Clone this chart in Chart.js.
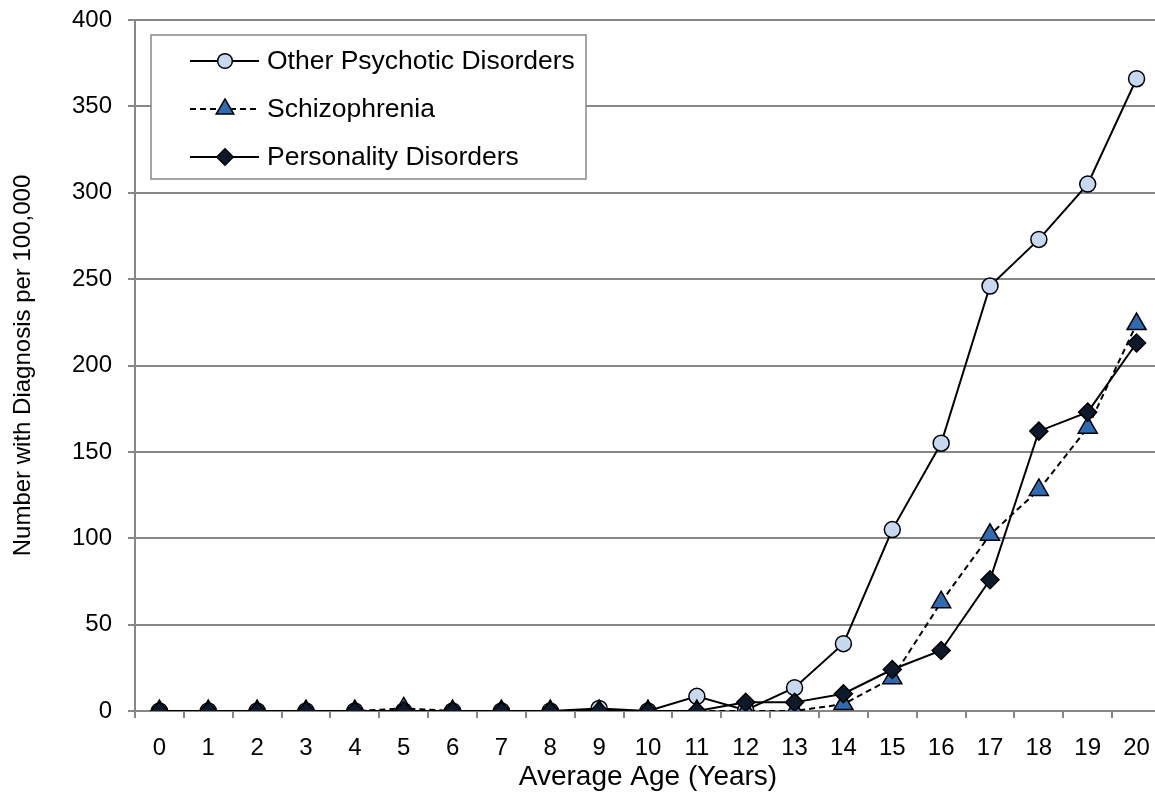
<!DOCTYPE html>
<html>
<head>
<meta charset="utf-8">
<title>Diagnosis by average age</title>
<script src="https://cdn.jsdelivr.net/npm/chart.js@4/dist/chart.umd.min.js"></script>
<style>
  html, body { margin: 0; padding: 0; background: #fff; overflow: hidden; }
  canvas { display: block; }
</style>
</head>
<body>
<canvas id="chart" width="1162" height="794"></canvas>
<script>
(function () {
  'use strict';

  /* ---------- data ---------- */
  var ages = ['0', '1', '2', '3', '4', '5', '6', '7', '8', '9', '10',
              '11', '12', '13', '14', '15', '16', '17', '18', '19', '20'];
  var otherPsychotic = [0, 0, 0, 0, 0, 0, 0, 0, 0, 1.5, 0,
                        8.5, 0.5, 13.5, 39, 105, 155, 246, 273, 305, 366];
  var schizophrenia  = [0, 0, 0, 0, 0, 1.5, 0, 0, 0, 0, 0,
                        0, 0, 0, 4, 19, 63, 102, 128, 164, 224];
  var personality    = [0, 0, 0, 0, 0, 0, 0, 0, 0, 0, 0,
                        0, 5, 5, 10, 24, 35, 76, 162, 173, 213];
  var yTicks = [0, 50, 100, 150, 200, 250, 300, 350, 400];

  var FONT = 'Liberation Sans, Arial, sans-serif';
  var GRID = '#878787';

  /* ---------- legend drawn as a white box inside the plot ---------- */
  var boxLegend = {
    id: 'boxLegend',
    afterDraw: function (chart) {
      var ctx = chart.ctx;
      var x0 = 151, y0 = 35, w = 435, h = 144;
      ctx.save();
      ctx.fillStyle = '#fff';
      ctx.fillRect(x0, y0, w, h);
      ctx.strokeStyle = GRID;
      ctx.lineWidth = 1.5;
      ctx.strokeRect(x0, y0, w, h);

      chart.data.datasets.forEach(function (ds, i) {
        var y = 61 + i * 48;
        ctx.strokeStyle = ds.borderColor;
        ctx.lineWidth = ds.borderWidth;
        ctx.setLineDash(ds.borderDash || []);
        ctx.beginPath();
        ctx.moveTo(190, y);
        ctx.lineTo(259, y);
        ctx.stroke();
        ctx.setLineDash([]);
        ctx.fillStyle = ds.pointBackgroundColor;
        ctx.strokeStyle = ds.pointBorderColor;
        ctx.lineWidth = ds.pointBorderWidth;
        Chart.helpers.drawPoint(ctx, {
          pointStyle: ds.pointStyle,
          radius: ds.pointRadius * 0.92,
          rotation: 0,
          borderWidth: ds.pointBorderWidth
        }, 225, y);

        ctx.fillStyle = '#000';
        ctx.font = '26.5px ' + FONT;
        ctx.textBaseline = 'middle';
        ctx.fillText(ds.label, 267, y + 1);
      });
      ctx.restore();
    }
  };

  function series(label, values, style, fill, radius, dash, order) {
    return {
      label: label,
      data: values,
      borderColor: '#000',
      borderWidth: 2,
      borderDash: dash,
      pointStyle: style,
      pointRadius: radius,
      pointHoverRadius: radius,
      pointBackgroundColor: fill,
      pointBorderColor: '#000',
      pointBorderWidth: 1.5,
      tension: 0,
      fill: false,
      order: order
    };
  }

  new Chart(document.getElementById('chart'), {
    type: 'line',
    data: {
      labels: ages,
      datasets: [
        series('Other Psychotic Disorders', otherPsychotic, 'circle', '#c6d9f1', 8, [], 3),
        series('Schizophrenia', schizophrenia, 'triangle', '#2e6bb3', 11, [6, 4], 2),
        series('Personality Disorders', personality, 'rectRot', '#0d1a2c', 9, [], 1)
      ]
    },
    options: {
      responsive: false,
      animation: false,
      layout: {
        autoPadding: false,
        padding: { top: 20, right: 1, bottom: 0, left: 0 }
      },
      plugins: {
        legend: { display: false },
        tooltip: { enabled: false }
      },
      scales: {
        x: {
          type: 'category',
          offset: true,
          grid: {
            offset: true,
            drawOnChartArea: false,
            drawTicks: true,
            tickLength: 7,
            color: GRID,
            lineWidth: 2
          },
          border: { color: GRID, width: 2 },
          ticks: {
            color: '#000',
            font: { family: FONT, size: 24 },
            padding: 16,
            maxRotation: 0,
            autoSkip: false
          },
          title: {
            display: true,
            text: 'Average Age (Years)',
            color: '#000',
            font: { family: FONT, size: 28 },
            padding: { top: 0, bottom: 0 }
          },
          afterFit: function (scale) {
            scale.height = 83;
            scale.paddingLeft = 0;
            scale.paddingRight = 0;
          }
        },
        y: {
          min: 0,
          max: 400,
          afterBuildTicks: function (scale) {
            scale.ticks = yTicks.map(function (v) { return { value: v }; });
          },
          grid: {
            color: GRID,
            lineWidth: 2,
            drawTicks: true,
            tickLength: 7
          },
          border: { color: GRID, width: 2 },
          ticks: {
            color: '#000',
            font: { family: FONT, size: 24 },
            padding: 16
          },
          title: {
            display: true,
            text: 'Number with Diagnosis per 100,000',
            color: '#000',
            font: { family: FONT, size: 24 },
            padding: { top: 9, bottom: 0 }
          },
          afterFit: function (scale) {
            scale.width = 135;
            scale.paddingTop = 0;
            scale.paddingBottom = 0;
          }
        }
      }
    },
    plugins: [boxLegend]
  });
}());
</script>
</body>
</html>
